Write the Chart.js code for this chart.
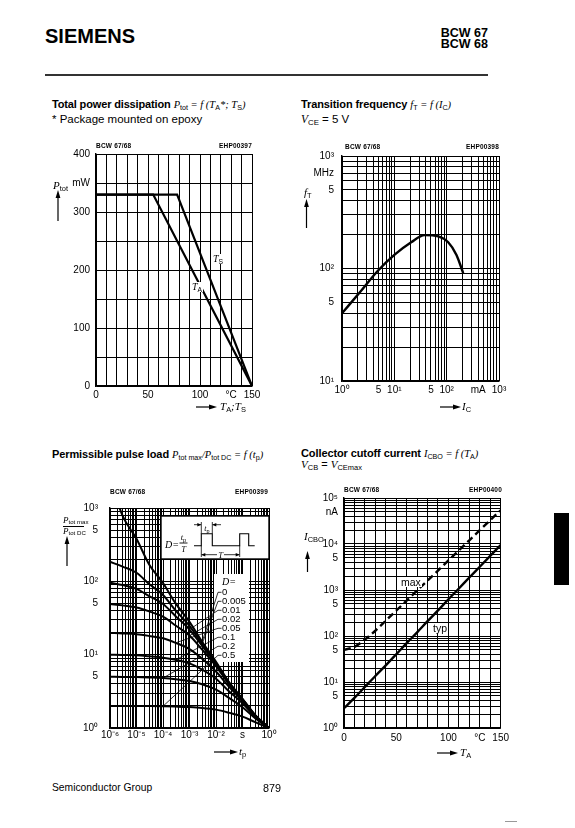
<!DOCTYPE html>
<html>
<head>
<meta charset="utf-8">
<script src="https://cdn.jsdelivr.net/npm/chart.js@4.4.1/dist/chart.umd.min.js"></script>
<style>
  html, body { margin: 0; padding: 0; background: #fff; }
  body { width: 575px; height: 828px; position: relative; overflow: hidden;
         font-family: "Liberation Sans", Arial, sans-serif; color: #000; }
  .t { position: absolute; white-space: nowrap; line-height: 1; }
  .b { font-weight: bold; }
  .m { font-family: "Liberation Serif", serif; font-style: italic; }
  .s { font-size: 68%; position: relative; top: 0.3em; font-family: "Liberation Sans", Arial, sans-serif; font-style: normal; }
  .tag { font-size: 6.5px; font-weight: bold; letter-spacing: 0.2px; }
  .wrap { position: absolute; }
  .wb { background: #fff; padding: 0 1px; }
</style>
</head>
<body>

<div class="t b" style="left:45px;top:26px;font-size:20px">SIEMENS</div>
<div class="t b" style="right:87px;top:26.5px;font-size:12.5px">BCW 67</div>
<div class="t b" style="right:87px;top:38px;font-size:12.5px">BCW 68</div>
<div style="position:absolute;left:45px;top:74px;width:443px;height:1.5px;background:#333"></div>

<!-- titles -->
<div class="t" style="left:52px;top:98.7px;font-size:11px"><span class="b" style="letter-spacing:-0.15px">Total power dissipation</span> <span class="m" style="font-size:10.5px">P<span class="s">tot</span> = f (T<span class="s">A</span>*; T<span class="s">S</span>)</span></div>
<div class="t" style="left:52px;top:113.5px;font-size:11.5px">* Package mounted on epoxy</div>

<div class="t" style="left:301px;top:98.7px;font-size:11px"><span class="b" style="letter-spacing:-0.1px">Transition frequency</span> <span class="m" style="font-size:10.5px">f<span class="s">T</span> = f (I<span class="s">C</span>)</span></div>
<div class="t" style="left:301px;top:113.5px;font-size:11.5px"><span class="m">V</span><span class="s">CE</span> = 5 V</div>

<div class="t" style="left:52px;top:448.7px;font-size:11px"><span class="b" style="letter-spacing:-0.1px">Permissible pulse load</span> <span class="m" style="font-size:10.5px">P<span class="s">tot max</span>/P<span class="s">tot DC</span> = f (t<span class="s">p</span>)</span></div>

<div class="t" style="left:301px;top:448px;font-size:11px"><span class="b" style="letter-spacing:-0.1px">Collector cutoff current</span> <span class="m" style="font-size:10.5px">I<span class="s">CBO</span> = f (T<span class="s">A</span>)</span></div>
<div class="t" style="left:301px;top:459px;font-size:11px"><span class="m">V</span><span class="s">CB</span> = <span class="m">V</span><span class="s">CEmax</span></div>

<!-- charts -->
<div class="wrap" style="left:56px;top:142px"><canvas id="c1" width="208" height="260"></canvas></div>
<div class="wrap" style="left:298px;top:142px"><canvas id="c2" width="213" height="255"></canvas></div>
<div class="wrap" style="left:66px;top:490px"><canvas id="c3" width="215" height="256"></canvas></div>
<div class="wrap" style="left:300px;top:486px"><canvas id="c4" width="213" height="258"></canvas></div>

<!-- chart tags -->
<div class="t tag" style="left:96px;top:143px">BCW 67/68</div>
<div class="t tag" style="right:323px;top:143px">EHP00397</div>
<div class="t tag" style="left:345px;top:144px">BCW 67/68</div>
<div class="t tag" style="right:76px;top:144px">EHP00398</div>
<div class="t tag" style="left:110px;top:488.5px">BCW 67/68</div>
<div class="t tag" style="right:307px;top:488.5px">EHP00399</div>
<div class="t tag" style="left:344px;top:487px">BCW 67/68</div>
<div class="t tag" style="right:73px;top:487px">EHP00400</div>

<!-- axis titles -->
<div class="t m" style="left:53px;top:179.7px;font-size:11px">P<span class="s">tot</span></div>
<div class="t m" style="left:220px;top:400.7px;font-size:11px">T<span class="s">A</span>;T<span class="s">S</span></div>
<div class="t m" style="left:304px;top:186.7px;font-size:11px">f<span class="s">T</span></div>
<div class="t m" style="left:462px;top:400.7px;font-size:11px">I<span class="s">C</span></div>
<div class="t m" style="left:63px;top:515.5px;font-size:9px">P<span class="s">tot max</span></div>
<div style="position:absolute;left:63px;top:526px;width:21px;height:1px;background:#000"></div>
<div class="t m" style="left:63px;top:526.5px;font-size:9px">P<span class="s">tot DC</span></div>
<div class="t m" style="left:239px;top:745.7px;font-size:11px">t<span class="s">p</span></div>
<div class="t m" style="left:304px;top:530.7px;font-size:11px">I<span class="s">CBO</span></div>
<div class="t m" style="left:460px;top:746.7px;font-size:11px">T<span class="s">A</span></div>

<!-- curve labels -->
<div class="t m wb" style="left:212px;top:253.5px;font-size:10px">T<span class="s">S</span></div>
<div class="t m wb" style="left:191px;top:281.5px;font-size:10px">T<span class="s">A</span></div>
<div class="t wb" style="left:400px;top:576.5px;font-size:10.5px">max</div>
<div class="t wb" style="left:432px;top:622.5px;font-size:10.5px">typ</div>

<!-- footer -->
<div class="t" style="left:52px;top:783.3px;font-size:10.3px">Semiconductor Group</div>
<div class="t" style="left:263px;top:783.3px;font-size:10.8px">879</div>
<div style="position:absolute;left:554px;top:513px;width:15px;height:72px;background:#000"></div>
<div style="position:absolute;left:505px;top:821px;width:12px;height:1px;background:#999"></div>

<svg style="position:absolute;left:0;top:0" width="575" height="828">
  <g stroke="#000" stroke-width="1.2" fill="#000">
    <line x1="58" y1="221" x2="58" y2="197"/><polygon points="55.6,198 58,190 60.4,198" stroke="none"/>
    <line x1="306.5" y1="228" x2="306.5" y2="206"/><polygon points="304.1,207 306.5,199 308.9,207" stroke="none"/>
    <line x1="67" y1="566" x2="67" y2="543"/><polygon points="64.6,544 67,536 69.4,544" stroke="none"/>
    <line x1="307.5" y1="572" x2="307.5" y2="558"/><polygon points="305.1,559 307.5,551 309.9,559" stroke="none"/>
    <line x1="196" y1="407" x2="210" y2="407"/><polygon points="209,404.6 217,407 209,409.4" stroke="none"/>
    <line x1="440" y1="407" x2="454" y2="407"/><polygon points="453,404.6 461,407 453,409.4" stroke="none"/>
    <line x1="214" y1="752" x2="231" y2="752"/><polygon points="230,749.6 238,752 230,754.4" stroke="none"/>
    <line x1="437" y1="753" x2="451" y2="753"/><polygon points="450,750.6 458,753 450,755.4" stroke="none"/>
  </g>
</svg>

<script>
// Total power dissipation (mW) vs temperature (degC)
const tsTempC = [0, 78, 150];
const tsPowerMW = [330, 330, 0];
const taTempC = [0, 55, 150];
const taPowerMW = [330, 330, 0];

// Transition frequency (MHz) vs collector current (mA), VCE = 5 V
const icMA = [1, 2.3, 4.8, 10, 21, 38, 69, 107, 154, 207];
const ftMHz = [40, 63, 95, 132, 171, 198, 193, 171, 132, 91];

// Permissible pulse load Ptot max / Ptot DC vs pulse width tp (s)
const tpSec = [1e-6, 3e-6, 1e-5, 3e-5, 1e-4, 3e-4, 1e-3, 3e-3, 1e-2, 3e-2, 1e-1, 3e-1, 1];
const dutyLabels = ['0', '0.005', '0.01', '0.02', '0.05', '0.1', '0.2', '0.5'];
const pulseD0    = [2500, 780, 380, 170, 95, 50, 28, 15, 8, 4.3, 2.5, 1.5, 1];
const pulseD0005 = [185, 159, 131, 92, 65, 40, 24.7, 14, 7.7, 4.2, 2.48, 1.5, 1];
const pulseD001  = [96, 89, 79, 63, 49, 33.5, 22, 13.2, 7.5, 4.15, 2.46, 1.49, 1];
const pulseD002  = [49, 47, 44, 39, 33, 25, 18.2, 11.7, 7.0, 4.0, 2.43, 1.48, 1];
const pulseD005  = [19.8, 19.5, 19, 18, 16.7, 14.5, 11.9, 8.8, 5.9, 3.7, 2.33, 1.46, 1];
const pulseD01   = [10, 9.9, 9.8, 9.5, 9.1, 8.5, 7.6, 6.25, 4.7, 3.2, 2.17, 1.43, 1];
const pulseD02   = [5, 4.97, 4.95, 4.89, 4.8, 4.63, 4.37, 3.95, 3.33, 2.59, 1.92, 1.36, 1];
const pulseD05   = [2, 2, 1.99, 1.99, 1.98, 1.96, 1.93, 1.88, 1.78, 1.62, 1.43, 1.2, 1];
const leaderIdx  = [7, 7, 6, 6, 5, 5, 4, 4];

// Collector cutoff current ICBO (nA) vs ambient temperature (degC)
const tempA = [0, 10, 20, 30, 40, 50, 60, 70, 80, 90, 100, 110, 120, 130, 140, 150];
const icboTyp = [2.7, 4.5, 7.8, 13.5, 23, 40, 70, 120, 210, 360, 630, 1080, 1870, 3200, 5500, 9500];
const icboMax = [50, 58, 84, 130, 215, 355, 590, 980, 1600, 2650, 4400, 7300, 12000, 20000, 33000, 54000];

// tick labels
const pwrXTicks = [0, 50, 100, 130, 150];
const pwrXLabels = ['0', '50', '100', '°C', '150'];
const pwrYTicks = [0, 100, 200, 300, 350, 400];
const pwrYLabels = ['0', '100', '200', '300', 'mW', '400'];
const ftXTicks = [1, 5, 10, 50, 100, 400, 1000];
const ftXLabels = ['10⁰', '5', '10¹', '5', '10²', 'mA', '10³'];
const ftYTicks = [10, 50, 100, 500, 700, 1000];
const ftYLabels = ['10¹', '5', '10²', '5', 'MHz', '10³'];
const tpXTicks = [1e-6, 1e-5, 1e-4, 1e-3, 1e-2, 1e-1, 1];
const tpXLabels = ['10⁻⁶', '10⁻⁵', '10⁻⁴', '10⁻³', '10⁻²', 's', '10⁰'];
const tpYTicks = [1, 5, 10, 50, 100, 500, 1000];
const tpYLabels = ['10⁰', '5', '10¹', '5', '10²', '5', '10³'];
const cbXTicks = [0, 50, 100, 130, 150];
const cbXLabels = ['0', '50', '100', '°C', '150'];
const cbYTicks = [1, 5, 10, 50, 100, 500, 1000, 5000, 10000, 50000, 100000];
const cbYLabels = ['10⁰', '5', '10¹', '5', '10²', '5', '10³', '5', '10⁴', 'nA', '10⁵'];

const FONT = { family: '"Liberation Sans", Arial, sans-serif', size: 10 };

function linGrid(lo, hi, step) {
  const out = [];
  for (let i = 0; lo + i * step <= hi + 1e-9; i++) out.push(lo + i * step);
  return out;
}
function logGrid(e0, e1) {
  const out = [];
  for (let e = e0; e < e1; e++) for (let m = 1; m < 10; m++) out.push(m * Math.pow(10, e));
  out.push(Math.pow(10, e1));
  return out;
}

function axis(type, min, max, grid, tv, tl, pad, fitKey, fitVal) {
  const isLog = type === 'logarithmic';
  return {
    type, min, max,
    afterBuildTicks: ax => { ax.ticks = grid.map(v => ({ value: v })); },
    afterFit: ax => { ax[fitKey] = fitVal; },
    grid: { color: '#000', lineWidth: 1, drawTicks: false },
    border: { display: true, color: '#000', width: 1.4 },
    ticks: {
      autoSkip: false, maxRotation: 0, minRotation: 0, padding: pad, color: '#000', font: FONT,
      callback: v => {
        const i = tv.findIndex(t => isLog ? Math.abs(Math.log10(t / v)) < 1e-6 : Math.abs(t - v) < 1e-6);
        return i < 0 ? '' : tl[i];
      }
    }
  };
}

function curve(xs, ys, extra) {
  return Object.assign({
    data: xs.map((x, i) => ({ x, y: ys[i] })),
    borderColor: '#000', borderWidth: 2.4, pointRadius: 0, fill: false, tension: 0
  }, extra || {});
}

function build(id, datasets, xAx, yAx, plugins) {
  return new Chart(document.getElementById(id), {
    type: 'line',
    data: { datasets },
    options: {
      responsive: false, animation: false, events: [],
      layout: { padding: { top: 10, right: 12, left: 0, bottom: 0 } },
      plugins: { legend: { display: false }, tooltip: { enabled: false } },
      scales: { x: xAx, y: yAx }
    },
    plugins: plugins || []
  });
}

// small canvas helpers for the pulse chart notes
function arrowHead(ctx, x, y, dir) {
  ctx.beginPath();
  ctx.moveTo(x, y);
  ctx.lineTo(x - 4 * dir, y - 1.8);
  ctx.lineTo(x - 4 * dir, y + 1.8);
  ctx.closePath();
  ctx.fill();
}
function seg(ctx, pts) {
  ctx.beginPath();
  ctx.moveTo(pts[0][0], pts[0][1]);
  for (let i = 1; i < pts.length; i++) ctx.lineTo(pts[i][0], pts[i][1]);
  ctx.stroke();
}
function subText(ctx, main, sub, x, y, size) {
  ctx.font = 'italic ' + size + 'px "Liberation Serif"';
  ctx.textAlign = 'left';
  const w = ctx.measureText(main).width;
  const sw = (ctx.font = (size * 0.68) + 'px "Liberation Sans"', ctx.measureText(sub).width);
  const x0 = x - (w + sw) / 2;
  ctx.font = 'italic ' + size + 'px "Liberation Serif"';
  ctx.fillText(main, x0, y);
  ctx.font = (size * 0.68) + 'px "Liberation Sans"';
  ctx.fillText(sub, x0 + w, y + size * 0.25);
}

const pulseNotes = {
  id: 'pulseNotes',
  beforeDatasetsDraw(chart) {
    const { ctx, chartArea: a } = chart;
    const R = a.right, T = a.top;
    ctx.save();
    ctx.fillStyle = '#fff';
    ctx.fillRect(R - 55, T + 66, 35, 88);
    ctx.fillRect(R - 108, T + 8, 108, 43);
    ctx.strokeStyle = '#000';
    ctx.lineWidth = 1.4;
    ctx.strokeRect(R - 108, T + 8, 108, 43);

    ctx.fillStyle = '#000';
    ctx.textBaseline = 'alphabetic';
    ctx.font = 'italic 10px "Liberation Serif"';
    ctx.textAlign = 'right';
    ctx.fillText('D=', R - 90, T + 40);
    subText(ctx, 't', 'p', R - 85.5, T + 32, 8.5);
    ctx.font = 'italic 8.5px "Liberation Serif"';
    ctx.textAlign = 'center';
    ctx.fillText('T', R - 85.5, T + 43.5);
    ctx.lineWidth = 0.9;
    seg(ctx, [[R - 89.5, T + 35], [R - 81.5, T + 35]]);

    // pulse waveform
    ctx.lineWidth = 1.1;
    const lo = T + 37.7, hi = T + 25.7;
    seg(ctx, [[R - 75, lo], [R - 67.7, lo], [R - 67.7, hi], [R - 56.7, hi], [R - 56.7, lo],
              [R - 29.3, lo], [R - 29.3, hi], [R - 20.3, hi], [R - 20.3, lo], [R - 14.3, lo]]);
    ctx.lineWidth = 0.8;
    seg(ctx, [[R - 67.7, T + 14], [R - 67.7, hi]]);
    seg(ctx, [[R - 56.7, T + 14], [R - 56.7, hi]]);
    seg(ctx, [[R - 75, T + 16.7], [R - 68, T + 16.7]]);
    arrowHead(ctx, R - 67.7, T + 16.7, 1);
    seg(ctx, [[R - 48, T + 16.7], [R - 56.4, T + 16.7]]);
    arrowHead(ctx, R - 56.7, T + 16.7, -1);
    subText(ctx, 't', 'p', R - 62.2, T + 22.5, 8);
    seg(ctx, [[R - 67.7, lo], [R - 67.7, T + 49]]);
    seg(ctx, [[R - 29.3, lo], [R - 29.3, T + 49]]);
    seg(ctx, [[R - 67.4, T + 46.7], [R - 52, T + 46.7]]);
    seg(ctx, [[R - 45, T + 46.7], [R - 29.6, T + 46.7]]);
    arrowHead(ctx, R - 67.7, T + 46.7, -1);
    arrowHead(ctx, R - 29.3, T + 46.7, 1);
    ctx.font = 'italic 8.5px "Liberation Serif"';
    ctx.textAlign = 'center';
    ctx.fillText('T', R - 48.5, T + 49.5);
    ctx.restore();
  },
  afterDatasetsDraw(chart) {
    const { ctx, chartArea: a, scales } = chart;
    const R = a.right, T = a.top;
    ctx.save();
    ctx.fillStyle = '#000';
    ctx.strokeStyle = '#000';
    ctx.lineWidth = 0.8;
    ctx.textBaseline = 'middle';
    ctx.textAlign = 'left';
    ctx.font = 'italic 10px "Liberation Serif"';
    ctx.fillText('D=', R - 47, T + 74);
    ctx.font = '9.5px "Liberation Sans"';
    dutyLabels.forEach((lab, i) => {
      const ly = T + 84.3 + 9 * i;
      const p = chart.data.datasets[i].data[leaderIdx[i]];
      const px = scales.x.getPixelForValue(p.x), py = scales.y.getPixelForValue(p.y);
      seg(ctx, [[R - 47.5, ly], [R - 51, ly], [px, py]]);
      ctx.fillText(lab, R - 47, ly);
    });
    ctx.restore();
  }
};

// chart 1: total power dissipation
build('c1',
  [curve(tsTempC, tsPowerMW, { borderWidth: 2.2 }), curve(taTempC, taPowerMW, { borderWidth: 2.2 })],
  axis('linear', 0, 150, linGrid(0, 150, 10), pwrXTicks, pwrXLabels, 3, 'height', 16),
  axis('linear', 0, 400, linGrid(0, 400, 50), pwrYTicks, pwrYLabels, 6, 'width', 40));

// chart 2: transition frequency
build('c2',
  [curve(icMA, ftMHz, { cubicInterpolationMode: 'monotone' })],
  axis('logarithmic', 1, 1000, logGrid(0, 3), ftXTicks, ftXLabels, 3, 'height', 16),
  axis('logarithmic', 10, 1000, logGrid(1, 3), ftYTicks, ftYLabels, 8, 'width', 44));

// chart 3: permissible pulse load
const pulseSeries = [pulseD0, pulseD0005, pulseD001, pulseD002, pulseD005, pulseD01, pulseD02, pulseD05];
build('c3',
  pulseSeries.map(ys => curve(tpSec, ys, { cubicInterpolationMode: 'monotone', borderWidth: 2 })),
  axis('logarithmic', 1e-6, 1, logGrid(-6, 0), tpXTicks, tpXLabels, 1, 'height', 16),
  axis('logarithmic', 1, 1000, logGrid(0, 3), tpYTicks, tpYLabels, 12, 'width', 44),
  [pulseNotes]);

// chart 4: collector cutoff current
build('c4',
  [curve(tempA, icboMax, { borderDash: [7, 4], cubicInterpolationMode: 'monotone' }),
   curve(tempA, icboTyp, { cubicInterpolationMode: 'monotone' })],
  axis('linear', 0, 150, linGrid(0, 150, 10), cbXTicks, cbXLabels, 4, 'height', 16),
  axis('logarithmic', 1, 100000, logGrid(0, 5), cbYTicks, cbYLabels, 6, 'width', 44));
</script>
</body>
</html>
